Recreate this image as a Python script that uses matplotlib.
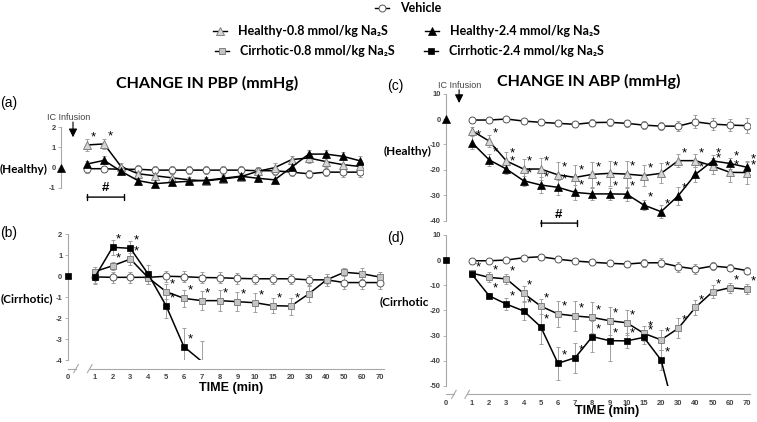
"""Change in PBP / ABP after IC Na2S infusion, healthy vs cirrhotic (4-panel time course)."""
import numpy as np
import matplotlib
matplotlib.use("Agg")
import matplotlib.pyplot as plt
from matplotlib.lines import Line2D
from matplotlib.transforms import blended_transform_factory, ScaledTranslation

# ---- data ----
time_labels = ["1", "2", "3", "4", "5", "6", "7", "8", "9", "10", "15", "20", "30", "40", "50", "60", "70"]

# (a) PBP, healthy
pbp_h_vehicle = [-0.05, -0.05, -0.08, -0.08, -0.12, -0.12, -0.12, -0.12, -0.12, -0.12, -0.15, -0.15, -0.22, -0.3, -0.22, -0.22, -0.22]
pbp_h_vehicle_err = [0.2, 0.15, 0.15, 0.2, 0.2, 0.2, 0.2, 0.2, 0.2, 0.2, 0.2, 0.2, 0.2, 0.2, 0.2, 0.25, 0.25]
pbp_h_low = [1.12, 1.17, 0.05, -0.3, -0.4, -0.5, -0.6, -0.65, -0.55, -0.45, -0.18, 0.0, 0.4, 0.48, 0.3, 0.15, 0.06]
pbp_h_low_err = [0.3, 0.25, 0.2, 0.2, 0.2, 0.2, 0.15, 0.2, 0.2, 0.2, 0.2, 0.25, 0.2, 0.25, 0.25, 0.25, 0.3]
pbp_h_high = [0.18, 0.36, -0.18, -0.64, -0.79, -0.72, -0.67, -0.62, -0.52, -0.42, -0.52, -0.6, 0.03, 0.67, 0.67, 0.56, 0.34]
pbp_h_high_err = [0.15, 0.2, 0.15, 0.1, 0.1, 0.1, 0.1, 0.1, 0.1, 0.1, 0.1, 0.1, 0.2, 0.2, 0.2, 0.2, 0.25]
pbp_h_low_stars = ["1", "2"]
pbp_h_high_stars = []

# (b) PBP, cirrhotic
pbp_c_vehicle = [-0.03, -0.05, -0.05, -0.05, 0.0, -0.02, -0.06, -0.07, -0.1, -0.12, -0.12, -0.12, -0.17, -0.17, -0.3, -0.3, -0.3]
pbp_c_vehicle_err = [0.3, 0.25, 0.25, 0.3, 0.25, 0.25, 0.25, 0.25, 0.25, 0.25, 0.25, 0.25, 0.25, 0.3, 0.3, 0.3, 0.3]
pbp_c_low = [0.22, 0.5, 0.82, -0.07, -0.73, -1.05, -1.16, -1.16, -1.21, -1.26, -1.4, -1.42, -0.84, -0.17, 0.19, 0.12, -0.04]
pbp_c_low_err = [0.2, 0.2, 0.3, 0.3, 0.35, 0.4, 0.45, 0.5, 0.45, 0.45, 0.35, 0.4, 0.4, 0.3, 0.2, 0.25, 0.25]
pbp_c_high = [-0.05, 1.38, 1.33, 0.1, -1.4, -3.35, -4.05]          # 1..7 min, last point off scale
pbp_c_high_err = [0.3, 0.35, 0.35, 0.45, 0.6, 0.9, 0.95]
pbp_c_low_stars = ["2", "3", "5", "6", "7", "8", "9", "10", "15", "20"]
pbp_c_high_stars = ["2", "3", "5", "6"]

# (c) ABP, healthy
abp_h_vehicle = [-0.4, -0.4, 0.0, -0.8, -1.3, -1.7, -2.1, -1.4, -1.3, -1.7, -2.4, -2.8, -2.8, -1.1, -2.0, -2.4, -2.6]
abp_h_vehicle_err = [1, 1, 1, 1, 1, 1, 1, 1.5, 1.5, 1.5, 1.5, 1.5, 2, 2.5, 2.5, 2.5, 3]
abp_h_low = [-4.6, -8.7, -16.5, -19.7, -19.7, -22, -23, -21.8, -21.4, -21.7, -22.3, -21.4, -16.4, -16.4, -18.5, -21, -21.1]
abp_h_low_err = [1.5, 2.5, 3.5, 4, 4.5, 5, 5, 5, 5, 5, 4, 4, 2.5, 2.5, 3, 4, 4.5]
abp_h_high = [-9.3, -16.1, -19.7, -24.3, -26, -26.9, -28.9, -29.5, -29.5, -29.6, -33.9, -36.5, -30.2, -21.8, -16.5, -17.5, -19]
abp_h_high_err = [2.5, 2.5, 2, 2, 3, 3, 3, 2.5, 2.5, 2.5, 2, 2.5, 3.5, 3, 2.5, 2, 2]
abp_h_low_stars = time_labels[1:]
abp_h_high_stars = time_labels[:]

# (d) ABP, cirrhotic
abp_c_vehicle = [-0.3, -0.3, 0.0, 0.9, 1.3, 0.3, -0.4, -0.9, -1.3, -1.6, -1.1, -1.1, -2.6, -3.6, -2.4, -3.0, -4.2]
abp_c_vehicle_err = [0.8, 0.8, 0.8, 0.8, 0.8, 0.8, 0.8, 0.8, 1, 1.2, 1.5, 1.8, 2, 2, 1.5, 1.5, 1.5]
abp_c_low = [-5.2, -6.9, -7.5, -13.2, -18.3, -21.4, -22.2, -22.8, -24.1, -24.9, -29.1, -31.7, -27.1, -18.8, -12.6, -11.0, -11.6]
abp_c_low_err = [1, 2, 2, 3, 3, 5, 6, 6, 5.5, 5, 3, 4, 4, 3, 2.5, 2, 2]
abp_c_high = [-5.7, -14.2, -17.5, -20.2, -26.5, -41, -38.8, -30.4, -32, -32.1, -30.7, -39.7, -66]   # 1..30 min
abp_c_high_err = [1, 1, 2.5, 3.5, 7, 6.5, 6, 6, 8, 3, 2.5, 4, 0]
abp_c_low_stars = time_labels[1:]
abp_c_high_stars = time_labels[:12]

# ---- style ----
W, H = 757, 422
LBL = ["Lato", "DejaVu Sans"]
ARL = ["Liberation Sans", "DejaVu Sans"]
plt.rcParams["axes.unicode_minus"] = False
SPINE = "#a8a8a8"
POS = np.arange(1, len(time_labels) + 1) + 0.5      # x=0 sits on the y axis, then a break
XMAX = 17.7

VEH = dict(marker="o", ms=5, mfc="white", mec="#555555", mew=0.7)
H_LOW = dict(marker="^", ms=5.5, mfc="#d6d6d6", mec="#808080", mew=0.7)
H_HIGH = dict(marker="^", ms=5.5, mfc="black", mec="black", mew=0.5)
C_LOW = dict(marker="s", ms=5, mfc="#c4c4c4", mec="#808080", mew=0.7)
C_HIGH = dict(marker="s", ms=5, mfc="black", mec="black", mew=0.5)

fig = plt.figure(figsize=(W / 100, H / 100), dpi=100)


def px_axes(left, top, right, bottom):
    return fig.add_axes([left / W, 1 - bottom / H, (right - left) / W, (bottom - top) / H])


def ftext(x, y, s, **kw):
    fig.text(x / W, 1 - y / H, s, **kw)


def style(ax, ylim, yticks, xaxis):
    ax.set_xlim(0, XMAX); ax.set_ylim(*ylim)
    ax.patch.set_alpha(0)
    for s in ("top", "right"):
        ax.spines[s].set_visible(False)
    ax.spines["left"].set_bounds(min(yticks), max(yticks))
    ax.spines["left"].set_color(SPINE); ax.spines["left"].set_linewidth(0.8)
    ax.set_yticks(yticks)
    ax.set_yticklabels([str(t) for t in yticks], fontfamily=ARL, fontsize=5.5, fontweight="bold", color="#444")
    ax.tick_params(axis="y", length=2.5, width=0.6, color=SPINE, pad=1.5)
    if not xaxis:
        ax.spines["bottom"].set_visible(False)
        ax.set_xticks([])
        return
    sp = ax.spines["bottom"]
    sp.set_position(("outward", 6)); sp.set_color(SPINE); sp.set_linewidth(0.8)
    xa, xb = 0.45, 1.22
    sp.set_bounds(xb, XMAX)
    ax.set_xticks([0] + list(POS))
    ax.set_xticklabels(["0"] + time_labels, fontfamily=ARL, fontsize=5.5, fontweight="bold", color="#444")
    ax.tick_params(axis="x", length=0, pad=4)
    tr = blended_transform_factory(ax.transData, ax.transAxes) + ScaledTranslation(0, -6 / 72, fig.dpi_scale_trans)
    dy = 4.0 / ax.bbox.height
    ax.plot([0, xa], [0, 0], transform=tr, color=SPINE, lw=0.8, clip_on=False)
    for x in (xa, xb):
        ax.plot([x - 0.13, x + 0.13], [-dy, dy], transform=tr, color=SPINE, lw=0.8, clip_on=False)


def series(ax, y, err, mk, stars, hide_last=False):
    x = POS[:len(y)]
    ax.errorbar(x, y, yerr=err, fmt="none", ecolor="#a0a0a0", elinewidth=0.7, capsize=1.4, capthick=0.7, zorder=2)
    every = list(range(len(y) - 1)) if hide_last else None
    ax.plot(x, y, color="black", lw=1.1, zorder=3, markevery=every, **mk)
    for lab in stars:
        i = time_labels.index(lab)
        ax.annotate("*", (x[i], y[i]), xytext=(2.5, 1.0), textcoords="offset points",
                    fontsize=9.5, ha="left", va="bottom", fontfamily=ARL, zorder=4)


def hash_bar(ax, x1, x2, ybar, ytxt):
    ax.annotate("", xy=(x1, ybar), xytext=(x2, ybar), annotation_clip=False,
                arrowprops=dict(arrowstyle="|-|,widthA=0.22,widthB=0.22", lw=1.0, color="black", shrinkA=0, shrinkB=0))
    ax.text((x1 + x2) / 2, ytxt, "#", ha="center", va="center", fontsize=9.5, fontweight="bold", fontfamily=ARL)


def ic_arrow(ax, x, ytail, ytip):
    ax.annotate("", xy=(x, ytip), xytext=(x, ytail), annotation_clip=False,
                arrowprops=dict(arrowstyle="-|>,head_length=0.5,head_width=0.25", lw=0.8, color="black",
                                shrinkA=0, shrinkB=0))


# ---- axes ----
ax_a = px_axes(61.4, 126.1, 61.4 + XMAX * 17.06, 190.0)
ax_b = px_axes(68.0, 233.2, 68.0 + XMAX * 17.83, 360.3)
ax_c = px_axes(446.2, 91.1, 446.2 + XMAX * 17.19, 223.1)
ax_d = px_axes(446.2, 232.3, 446.2 + XMAX * 17.19, 386.0)

style(ax_a, (-1.1, 2.05), [2, 1, 0, -1], False)
style(ax_b, (-4.0, 2.05), [2, 1, 0, -1, -2, -3, -4], True)
style(ax_c, (-41, 11), [10, 0, -10, -20, -30, -40], False)
style(ax_d, (-50, 11), [10, 0, -10, -20, -30, -40, -50], True)

series(ax_a, pbp_h_vehicle, pbp_h_vehicle_err, VEH, [])
series(ax_a, pbp_h_low, pbp_h_low_err, H_LOW, pbp_h_low_stars)
series(ax_a, pbp_h_high, pbp_h_high_err, H_HIGH, pbp_h_high_stars)

series(ax_b, pbp_c_vehicle, pbp_c_vehicle_err, VEH, [])
series(ax_b, pbp_c_low, pbp_c_low_err, C_LOW, pbp_c_low_stars)
series(ax_b, pbp_c_high, pbp_c_high_err, C_HIGH, pbp_c_high_stars, hide_last=True)

series(ax_c, abp_h_vehicle, abp_h_vehicle_err, VEH, [])
series(ax_c, abp_h_low, abp_h_low_err, H_LOW, abp_h_low_stars)
series(ax_c, abp_h_high, abp_h_high_err, H_HIGH, abp_h_high_stars)

series(ax_d, abp_c_vehicle, abp_c_vehicle_err, VEH, [])
series(ax_d, abp_c_low, abp_c_low_err, C_LOW, abp_c_low_stars)
series(ax_d, abp_c_high, abp_c_high_err, C_HIGH, abp_c_high_stars, hide_last=True)

# baseline (t=0) points sit on the y axis
for ax, mk in ((ax_a, H_HIGH), (ax_b, C_HIGH), (ax_c, H_HIGH), (ax_d, C_HIGH)):
    ax.plot([0], [0], ls="none", clip_on=False, zorder=4, **mk)

hash_bar(ax_a, 1.5, 3.65, -1.45, -1.0)
hash_bar(ax_c, 5.5, 7.6, -41.0, -37.8)
ic_arrow(ax_a, 0.68, 2.25, 1.5)
ic_arrow(ax_c, 0.75, 11.5, 6.3)

# ---- text ----
ftext(69, 117, "IC Infusion", ha="center", va="center", fontsize=6.5, color="#444", fontfamily=ARL)
ftext(460, 85, "IC Infusion", ha="center", va="center", fontsize=6.5, color="#444", fontfamily=ARL)
ftext(207, 83, "CHANGE IN PBP (mmHg)", ha="center", va="center", fontsize=11.5, fontweight="bold", fontfamily=LBL)
ftext(589, 81, "CHANGE IN ABP (mmHg)", ha="center", va="center", fontsize=11.5, fontweight="bold", fontfamily=LBL)
ftext(231, 388, "TIME (min)", ha="center", va="center", fontsize=9, fontweight="bold", fontfamily=ARL)
ftext(607, 411, "TIME (min)", ha="center", va="center", fontsize=9, fontweight="bold", fontfamily=ARL)
for x, y, s in ((0, 103, "(a)"), (0, 233, "(b)"), (387, 86, "(c)"), (387, 238, "(d)")):
    ftext(x, y, s, ha="left", va="center", fontsize=10, fontfamily=ARL)
ftext(0, 169, "(Healthy)", ha="left", va="center", fontsize=8.5, fontweight="bold", fontfamily=LBL)
ftext(1, 299, "(Cirrhotic)", ha="left", va="center", fontsize=8.5, fontweight="bold", fontfamily=LBL)
ftext(431, 151, "(Healthy)", ha="right", va="center", fontsize=8.5, fontweight="bold", fontfamily=LBL)
ftext(380, 302, "(Cirrhotic", ha="left", va="center", fontsize=8.5, fontweight="bold", fontfamily=LBL)

# ---- legend (hand placed) ----
legend_rows = [
    (382, 8, VEH, "Vehicle"),
    (220, 31, H_LOW, "Healthy-0.8 mmol/kg Na\u2082S"),
    (432, 31, H_HIGH, "Healthy-2.4 mmol/kg Na\u2082S"),
    (222, 51, C_LOW, "Cirrhotic-0.8 mmol/kg Na\u2082S"),
    (431, 51, C_HIGH, "Cirrhotic-2.4 mmol/kg Na\u2082S"),
]
for x, y, mk, label in legend_rows:
    fig.add_artist(Line2D([(x - 7) / W, x / W, (x + 7) / W], [1 - y / H] * 3, transform=fig.transFigure,
                          color="black", lw=1.0, markevery=[1], **mk))
    ftext(x + 18, y, label, ha="left", va="center", fontsize=9, fontweight="bold", fontfamily=LBL)

fig.savefig("out.png", dpi=100)
